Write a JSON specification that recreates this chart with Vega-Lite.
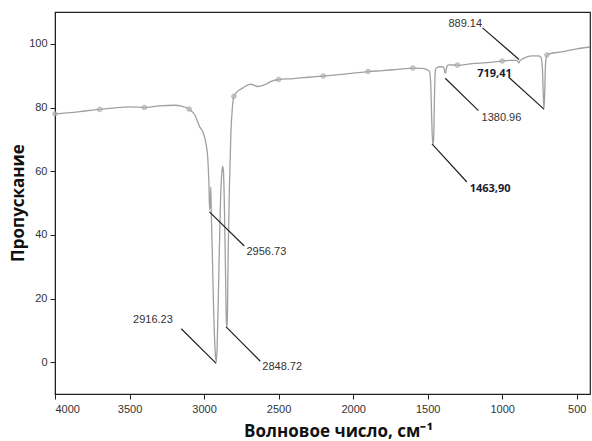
{
  "$schema": "https://vega.github.io/schema/vega-lite/v6.json",
  "width": 535,
  "height": 382,
  "autosize": {"type": "none"},
  "padding": {"left": 55, "top": 12, "right": 2, "bottom": 47},
  "config": {
    "view": {"stroke": "#222", "strokeWidth": 1.2},
    "font": "Liberation Sans"
  },
  "datasets": {
    "spectrum": [
      {"v": 4000, "t": 78.0}, {"v": 3900, "t": 78.4}, {"v": 3800, "t": 78.9}, {"v": 3700, "t": 79.4},
      {"v": 3600, "t": 79.9}, {"v": 3500, "t": 80.2}, {"v": 3400, "t": 80.0}, {"v": 3300, "t": 80.5},
      {"v": 3200, "t": 80.7}, {"v": 3150, "t": 80.4}, {"v": 3100, "t": 79.5}, {"v": 3060, "t": 77.5},
      {"v": 3030, "t": 74.0}, {"v": 3005, "t": 72.0}, {"v": 2985, "t": 68.0}, {"v": 2975, "t": 64.0},
      {"v": 2968, "t": 57.0}, {"v": 2963, "t": 48.0}, {"v": 2958, "t": 50.0}, {"v": 2955, "t": 55.0},
      {"v": 2952, "t": 48.0}, {"v": 2945, "t": 35.0}, {"v": 2935, "t": 15.0}, {"v": 2925, "t": 3.0},
      {"v": 2918, "t": 0.0}, {"v": 2912, "t": 5.0}, {"v": 2900, "t": 30.0}, {"v": 2890, "t": 50.0},
      {"v": 2880, "t": 60.0}, {"v": 2875, "t": 61.5}, {"v": 2870, "t": 60.0}, {"v": 2862, "t": 45.0},
      {"v": 2855, "t": 25.0}, {"v": 2850, "t": 11.0}, {"v": 2845, "t": 12.0}, {"v": 2838, "t": 35.0},
      {"v": 2830, "t": 55.0}, {"v": 2820, "t": 72.0}, {"v": 2810, "t": 80.0}, {"v": 2800, "t": 83.5},
      {"v": 2770, "t": 85.3}, {"v": 2741, "t": 86.1}, {"v": 2700, "t": 87.2}, {"v": 2685, "t": 87.3},
      {"v": 2641, "t": 86.6}, {"v": 2600, "t": 87.0}, {"v": 2585, "t": 87.3}, {"v": 2550, "t": 88.2},
      {"v": 2500, "t": 88.8}, {"v": 2400, "t": 89.1}, {"v": 2300, "t": 89.5}, {"v": 2200, "t": 89.9},
      {"v": 2100, "t": 90.3}, {"v": 2000, "t": 90.8}, {"v": 1900, "t": 91.3}, {"v": 1800, "t": 91.6},
      {"v": 1700, "t": 92.0}, {"v": 1600, "t": 92.4}, {"v": 1540, "t": 92.3}, {"v": 1510, "t": 92.0},
      {"v": 1490, "t": 91.5}, {"v": 1480, "t": 88.0}, {"v": 1475, "t": 80.0}, {"v": 1470, "t": 72.0},
      {"v": 1465, "t": 68.5}, {"v": 1460, "t": 70.0}, {"v": 1455, "t": 82.0}, {"v": 1450, "t": 90.5},
      {"v": 1445, "t": 92.3}, {"v": 1420, "t": 92.8}, {"v": 1400, "t": 92.8}, {"v": 1390, "t": 92.3},
      {"v": 1385, "t": 91.0}, {"v": 1380, "t": 90.8}, {"v": 1376, "t": 91.8}, {"v": 1370, "t": 93.0},
      {"v": 1360, "t": 93.4}, {"v": 1300, "t": 93.3}, {"v": 1200, "t": 93.8}, {"v": 1100, "t": 94.1},
      {"v": 1000, "t": 94.6}, {"v": 950, "t": 94.8}, {"v": 900, "t": 94.8}, {"v": 889, "t": 94.0},
      {"v": 880, "t": 94.7}, {"v": 850, "t": 95.6}, {"v": 800, "t": 96.2}, {"v": 760, "t": 96.2},
      {"v": 740, "t": 95.8}, {"v": 730, "t": 92.0}, {"v": 725, "t": 85.0}, {"v": 720, "t": 79.5},
      {"v": 715, "t": 84.0}, {"v": 710, "t": 93.0}, {"v": 700, "t": 96.5}, {"v": 696, "t": 96.7},
      {"v": 600, "t": 97.5}, {"v": 500, "t": 98.4}, {"v": 411, "t": 99.0}
    ],
    "markers": [
      {"v": 4000, "t": 78.0}, {"v": 3700, "t": 79.4}, {"v": 3400, "t": 80.0}, {"v": 3100, "t": 79.5},
      {"v": 2800, "t": 83.5}, {"v": 2500, "t": 88.8}, {"v": 2200, "t": 89.9}, {"v": 1900, "t": 91.3},
      {"v": 1600, "t": 92.4}, {"v": 1300, "t": 93.3}, {"v": 1000, "t": 94.6}, {"v": 700, "t": 96.5}
    ],
    "leaders": [
      {"v": 2964, "t": 47.2, "v2": 2730, "t2": 36.5},
      {"v": 3153, "t": 10.5, "v2": 2919, "t2": -0.4},
      {"v": 2852, "t": 11.1, "v2": 2623, "t2": 0.3},
      {"v": 1471, "t": 68.6, "v2": 1237, "t2": 56.6},
      {"v": 1382, "t": 89.2, "v2": 1159, "t2": 79.0},
      {"v": 1132, "t": 105.0, "v2": 887, "t2": 95.1},
      {"v": 958, "t": 89.6, "v2": 720, "t2": 79.5}
    ],
    "labels": [
      {"v": 2582, "t": 34.5, "label": "2956.73"},
      {"v": 3343, "t": 13.3, "label": "2916.23"},
      {"v": 2476, "t": -1.6, "label": "2848.72"},
      {"v": 1005, "t": 76.7, "label": "1380.96"},
      {"v": 1248, "t": 106.3, "label": "889.14"}
    ],
    "addedLabels": [
      {"v": 1081, "t": 54.5, "label": "1463,90"},
      {"v": 1052, "t": 90.5, "label": "719,41"}
    ]
  },
  "encoding": {
    "x": {
      "field": "v", "type": "quantitative",
      "scale": {"domain": [411, 4000], "reverse": true, "nice": false, "zero": false},
      "axis": {
        "values": [4000, 3500, 3000, 2500, 2000, 1500, 1000, 500],
        "format": "d", "grid": false, "tickSize": 5, "tickColor": "#222", "domainColor": "#222",
        "labelFontSize": 11, "labelColor": "#333", "labelPadding": 4,
        "title": "Волновое число, см⁻¹", "titleFont": "Open Sans", "titleFontSize": 17,
        "titleFontWeight": "bold", "titleColor": "#111",
        "titleX": 283, "titleY": 42, "titleBaseline": "alphabetic", "titleAlign": "center"
      }
    },
    "y": {
      "field": "t", "type": "quantitative",
      "scale": {"domain": [-10, 110], "nice": false, "zero": false},
      "axis": {
        "values": [0, 20, 40, 60, 80, 100],
        "grid": false, "tickSize": 5, "tickColor": "#222", "domainColor": "#222",
        "labelFontSize": 11, "labelColor": "#333", "labelPadding": 3,
        "title": "Пропускание", "titleFont": "Open Sans", "titleFontSize": 17,
        "titleFontWeight": "bold", "titleColor": "#111",
        "titleAngle": 270, "titleX": -32, "titleY": 190.5, "titleBaseline": "alphabetic", "titleAlign": "center"
      }
    }
  },
  "layer": [
    {
      "data": {"name": "spectrum"},
      "mark": {"type": "line", "color": "#a0a0a0", "strokeWidth": 1.3, "interpolate": "monotone"}
    },
    {
      "data": {"name": "markers"},
      "mark": {"type": "point", "shape": "circle", "size": 22, "filled": true, "color": "#b5b5b5", "stroke": "#999", "strokeWidth": 0.8}
    },
    {
      "data": {"name": "leaders"},
      "mark": {"type": "rule", "color": "#222", "strokeWidth": 1.2},
      "encoding": {
        "x2": {"field": "v2"},
        "y2": {"field": "t2"}
      }
    },
    {
      "data": {"name": "labels"},
      "mark": {"type": "text", "fontSize": 11, "color": "#333", "align": "center", "baseline": "middle"},
      "encoding": {"text": {"field": "label"}}
    },
    {
      "data": {"name": "addedLabels"},
      "mark": {"type": "text", "fontSize": 11, "font": "Open Sans", "fontWeight": "bold", "color": "#1a1a33", "align": "center", "baseline": "middle"},
      "encoding": {"text": {"field": "label"}}
    }
  ]
}
